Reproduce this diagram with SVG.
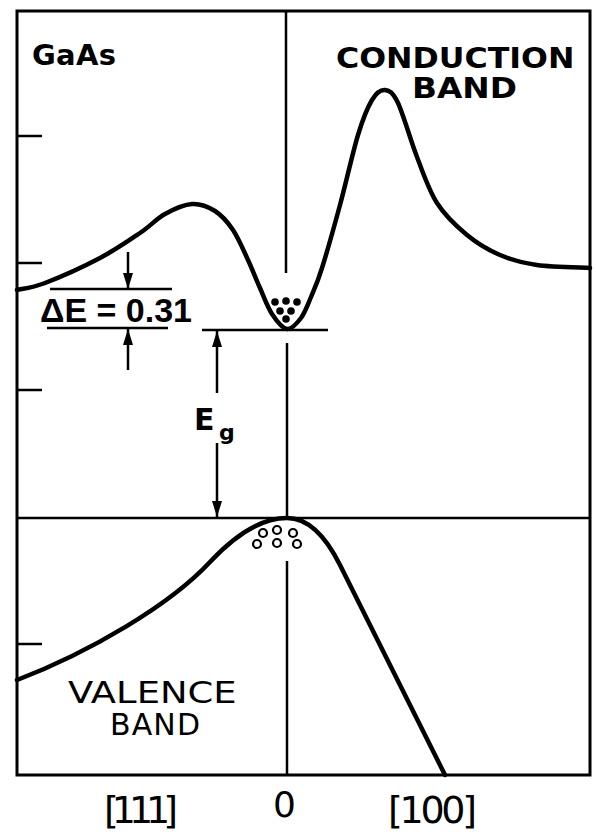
<svg xmlns="http://www.w3.org/2000/svg" width="596" height="837" viewBox="0 0 596 837">
<style>
.frame{fill:none;stroke:#000;stroke-width:3}
.band{fill:none;stroke:#000;stroke-width:4.5;stroke-linecap:round;stroke-linejoin:round}
.ln{fill:none;stroke:#000;stroke-width:2.5}
.tick{fill:none;stroke:#000;stroke-width:2.5}
.arr{fill:none;stroke:#000;stroke-width:2.5}
.lbl{font-family:"DejaVu Sans","Liberation Sans",sans-serif;fill:#000}
.b{font-weight:bold}
.dot{fill:#000}
.hole{fill:none;stroke:#000;stroke-width:2.2}
</style>
<defs>
<marker id="ah" markerUnits="userSpaceOnUse" markerWidth="16" markerHeight="10" refX="16" refY="5" orient="auto">
<path d="M0,0 L16,5 L0,10 z" fill="#000"/>
</marker>
</defs>
<rect width="596" height="837" fill="#fff"/>
<g id="frame">
<rect class="frame" x="17" y="11" width="573" height="764"/>
<line class="tick" x1="17" y1="136" x2="42" y2="136"/>
<line class="tick" x1="17" y1="263" x2="42" y2="263"/>
<line class="tick" x1="17" y1="390" x2="42" y2="390"/>
<line class="tick" x1="17" y1="644" x2="42" y2="644"/>
<line class="ln" x1="286" y1="11" x2="286" y2="273"/>
<line class="ln" x1="287" y1="343" x2="287" y2="518"/>
<line class="ln" x1="287" y1="561" x2="287" y2="775"/>
<line class="ln" x1="17" y1="518" x2="590" y2="518"/>
</g>
<g id="conduction-band">
<path class="band" d="M17,290 C21.7,288.8 31.2,288.3 45,283 C58.8,277.7 84.2,266.3 100,258 C115.8,249.7 129.2,240.3 140,233 C150.8,225.7 156.3,218.8 165,214 C173.7,209.2 183.7,204.5 192,204 C200.3,203.5 208.2,206.7 215,211 C221.8,215.3 227.5,221.8 233,230 C238.5,238.2 243.5,250.3 248,260 C252.5,269.7 256,279 260,288 C264,297 267.5,307.2 272,314 C276.5,320.8 282.2,328.3 287,329 C291.8,329.7 297,323.3 301,318 C305,312.7 307.5,305.3 311,297 C314.5,288.7 317.2,283.3 322,268 C326.8,252.7 334,227.2 340,205 C346,182.8 352.7,152.5 358,135 C363.3,117.5 367.5,107.5 372,100 C376.5,92.5 380.7,89.5 385,90 C389.3,90.5 392.7,91.8 398,103 C403.3,114.2 410.5,140.3 417,157 C423.5,173.7 428.7,190 437,203 C445.3,216 456.5,226.3 467,235 C477.5,243.7 488.3,250 500,255 C511.7,260 522,262.8 537,265 C552,267.2 581.2,267.5 590,268"/>
<text class="lbl b" x="32" y="65" font-size="29" textLength="84">GaAs</text>
<text class="lbl b" transform="translate(336,68) scale(1.13,1)" font-size="28">CONDUCTION</text>
<text class="lbl b" transform="translate(412,98) scale(1.17,1)" font-size="28">BAND</text>
</g>
<g id="electrons">
<circle class="dot" cx="275" cy="302" r="3.8"/>
<circle class="dot" cx="286" cy="301" r="3.8"/>
<circle class="dot" cx="297" cy="302" r="3.8"/>
<circle class="dot" cx="280" cy="311" r="3.8"/>
<circle class="dot" cx="291" cy="311" r="3.8"/>
<circle class="dot" cx="286" cy="319" r="3.8"/>
</g>
<g id="valence-band">
<path class="band" d="M17,680 C90,652 170,605 210,562 C240,530 265,518 287,518 C307,518 325,535 340,565 C360,605 425,735 445,775"/>
<text class="lbl" transform="translate(68,703) scale(1.23,1)" font-size="30">VALENCE</text>
<text class="lbl" x="110" y="735" font-size="30" textLength="90">BAND</text>
</g>
<g id="holes">
<circle class="hole" cx="263" cy="533" r="4"/>
<circle class="hole" cx="277" cy="530" r="4"/>
<circle class="hole" cx="293" cy="533" r="4"/>
<circle class="hole" cx="257" cy="544" r="4"/>
<circle class="hole" cx="277" cy="543" r="4"/>
<circle class="hole" cx="297" cy="544" r="4"/>
</g>
<g id="delta-e">
<line class="ln" x1="50" y1="289" x2="172" y2="289"/>
<line class="ln" x1="47" y1="328" x2="168" y2="328"/>
<text x="40" y="322" font-family="Liberation Sans, Arial, sans-serif" font-size="34" font-weight="bold" textLength="152">ΔE = 0.31</text>
</g>
<g id="energy-gap">
<line class="ln" x1="202" y1="330" x2="328" y2="330"/>
<text class="lbl" x="194" y="430" font-size="30" font-weight="bold">E</text>
<text class="lbl" x="219" y="440" font-size="22" font-weight="bold">g</text>
</g>
<g id="connectors">
<line class="arr" x1="128" y1="252" x2="128" y2="289" marker-end="url(#ah)"/>
<line class="arr" x1="128" y1="370" x2="128" y2="329" marker-end="url(#ah)"/>
<line class="arr" x1="217" y1="393" x2="217" y2="331" marker-end="url(#ah)"/>
<line class="arr" x1="217" y1="443" x2="217" y2="517" marker-end="url(#ah)"/>
</g>
<g id="axis-labels">
<text class="lbl" x="104" y="823" font-size="38" textLength="74">[111]</text>
<text class="lbl" x="273" y="817" font-size="36">0</text>
<text class="lbl" x="388" y="823" font-size="38" textLength="89">[100]</text>
</g>
</svg>
